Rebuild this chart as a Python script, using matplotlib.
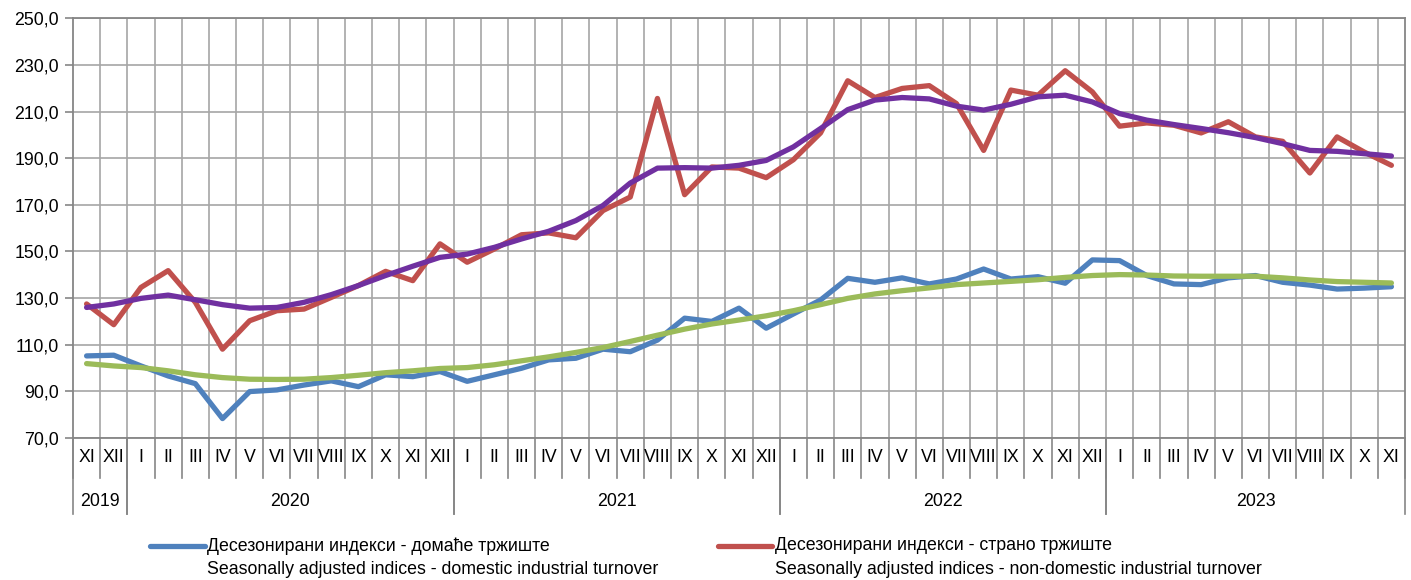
import matplotlib
matplotlib.use("Agg")
import matplotlib.pyplot as plt
from matplotlib import font_manager
from matplotlib.lines import Line2D

# ---------------- data ----------------
months = ["XI", "XII",
          "I", "II", "III", "IV", "V", "VI", "VII", "VIII", "IX", "X", "XI", "XII",
          "I", "II", "III", "IV", "V", "VI", "VII", "VIII", "IX", "X", "XI", "XII",
          "I", "II", "III", "IV", "V", "VI", "VII", "VIII", "IX", "X", "XI", "XII",
          "I", "II", "III", "IV", "V", "VI", "VII", "VIII", "IX", "X", "XI"]
years = ["2019", "2020", "2021", "2022", "2023"]
year_spans = [(0, 1), (2, 13), (14, 25), (26, 37), (38, 48)]

domestic = [105.1, 105.4, 100.8, 96.5, 93.2, 78.2, 89.8, 90.5, 92.6, 94.4, 91.9, 97.0, 96.2, 98.4,
            94.2, 97.0, 99.8, 103.4, 104.1, 108.0, 106.9, 111.9, 121.3, 119.9, 125.6, 117.0,
            123.1, 129.1, 138.4, 136.7, 138.6, 136.0, 138.1, 142.4, 138.1, 139.1, 136.3, 146.3,
            146.0, 139.6, 136.0, 135.7, 138.6, 139.6, 136.7, 135.5, 133.8, 134.2, 134.8]
nondomestic = [127.4, 118.5, 134.5, 141.7, 128.1, 108.0, 120.2, 124.5, 125.2, 130.2, 135.3, 141.4, 137.4, 153.2,
               145.3, 151.0, 157.1, 157.9, 155.8, 167.5, 173.3, 215.6, 174.3, 186.2, 185.7, 181.6,
               189.3, 200.8, 223.2, 216.0, 219.9, 221.1, 213.4, 193.3, 219.2, 217.0, 227.5, 218.4,
               203.7, 205.1, 204.1, 200.8, 205.6, 199.1, 197.2, 183.6, 199.1, 192.6, 186.9]
domestic_trend = [101.8, 100.8, 100.1, 98.7, 97.0, 95.8, 95.1, 95.0, 95.1, 95.8, 96.8, 97.9, 98.7, 99.7,
                  100.1, 101.3, 103.0, 104.7, 106.6, 108.7, 111.3, 114.0, 116.6, 118.8, 120.5, 122.3,
                  124.5, 127.1, 129.8, 131.7, 133.1, 134.3, 135.7, 136.4, 137.1, 137.8, 138.8, 139.6,
                  140.0, 139.8, 139.4, 139.3, 139.3, 139.3, 138.6, 137.7, 137.0, 136.7, 136.4]
nondomestic_trend = [125.9, 127.4, 129.8, 131.2, 129.2, 127.1, 125.6, 125.9, 128.1, 131.4, 135.3, 139.6, 143.6, 147.4,
                     148.8, 151.7, 155.3, 158.6, 163.2, 169.7, 179.3, 185.7, 185.9, 185.7, 186.9, 189.0,
                     194.8, 202.7, 210.8, 214.9, 216.0, 215.4, 212.3, 210.6, 213.1, 216.3, 217.0, 214.1,
                     209.1, 206.3, 204.4, 202.7, 200.9, 198.8, 196.2, 193.3, 192.9, 191.9, 190.9]
yticks = [70, 90, 110, 130, 150, 170, 190, 210, 230, 250]
legend_labels = [
    ("Десезонирани индекси - домаће тржиште", "Seasonally adjusted indices - domestic industrial turnover"),
    ("Десезонирани индекси - страно тржиште", "Seasonally adjusted indices - non-domestic industrial turnover"),
]

# ---------------- style ----------------
available = {f.name for f in font_manager.fontManager.ttflist}
if "Liberation Sans Narrow" in available:
    fam = ["Liberation Sans Narrow", "Liberation Sans", "DejaVu Sans"]
    fs = 14.5
else:
    fam = ["Liberation Sans", "DejaVu Sans"]
    fs = 12.8
plt.rcParams["font.family"] = fam

C_BLUE = "#4F81BD"
C_RED = "#C0504D"
C_GREEN = "#9BBB59"
C_PURPLE = "#7030A0"
GRID = "#A6A6A6"
AXIS = "#868686"

W, H = 1411, 580
fig = plt.figure(figsize=(W / 100, H / 100), dpi=100)
left, right, top, bottom = 73, 1405, 18.3, 437.7
ax = fig.add_axes([left / W, 1 - bottom / H, (right - left) / W, (bottom - top) / H])

n = len(months)
x = list(range(n))
lw = 3.8
kw = dict(lw=lw, solid_joinstyle="round", solid_capstyle="round")
ax.plot(x, domestic, color=C_BLUE, zorder=3, **kw)
ax.plot(x, nondomestic, color=C_RED, zorder=3, **kw)
ax.plot(x, domestic_trend, color=C_GREEN, zorder=4, **kw)
ax.plot(x, nondomestic_trend, color=C_PURPLE, zorder=4, **kw)

ax.set_xlim(-0.5, n - 0.5)
ax.set_ylim(70, 250)
ax.set_yticks(yticks)
ax.set_yticklabels([f"{v:.1f}".replace(".", ",") for v in yticks], fontsize=fs)
ax.tick_params(axis="y", length=6, width=1.2, color=AXIS, pad=4)
ax.set_xticks([i + 0.5 for i in range(-1, n)], minor=False)
ax.set_xticklabels([])
ax.tick_params(axis="x", length=0)

for v in yticks:
    ax.axhline(v, color=GRID, lw=1.2, zorder=1)
for i in range(n - 1):
    ax.axvline(i + 0.5, color=GRID, lw=1.2, zorder=1)
for s in ax.spines.values():
    s.set_color(AXIS)
    s.set_linewidth(1.3)

ah = bottom - top
tr = ax.get_xaxis_transform()
month_drop = (478 - bottom) / ah
year_drop = (514 - bottom) / ah
for i in range(n + 1):
    xb = i - 0.5
    ax.plot([xb, xb], [0, -month_drop], transform=tr, color=AXIS, lw=1.2, clip_on=False)
for (a, b) in year_spans:
    for xb in (a - 0.5, b + 0.5):
        ax.plot([xb, xb], [0, -year_drop], transform=tr, color=AXIS, lw=1.2, clip_on=False)

for i, m in enumerate(months):
    ax.text(i, -(458 - bottom) / ah, m, transform=tr, ha="center", va="center", fontsize=fs)
for yr, (a, b) in zip(years, year_spans):
    ax.text((a + b) / 2, -(502 - bottom) / ah, yr, transform=tr, ha="center", va="center", fontsize=fs)

# ---------------- legend ----------------
for (hx0, hx1, tx), col, (l1, l2) in zip([(150, 205, 207), (718, 772, 775)], [C_BLUE, C_RED], legend_labels):
    fig.add_artist(Line2D([hx0 / W, hx1 / W], [1 - 546 / H, 1 - 546 / H], color=col, lw=lw,
                          solid_capstyle="round"))
    fig.text(tx / W, 1 - 546 / H, l1, ha="left", va="center", fontsize=fs)
    fig.text(tx / W, 1 - 569 / H, l2, ha="left", va="center", fontsize=fs)

fig.savefig("out.png", dpi=100)
